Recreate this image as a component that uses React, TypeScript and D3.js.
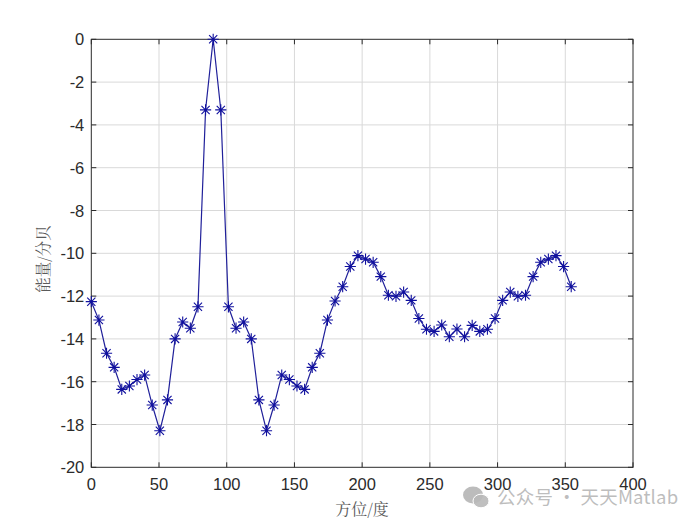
import React from "react";
import * as d3 from "d3";

const angles = [0,5.625,11.25,16.875,22.5,28.125,33.75,39.375,45,50.625,56.25,61.875,67.5,73.125,78.75,84.375,90,95.625,101.25,106.875,112.5,118.125,123.75,129.375,135,140.625,146.25,151.875,157.5,163.125,168.75,174.375,180,185.625,191.25,196.875,202.5,208.125,213.75,219.375,225,230.625,236.25,241.875,247.5,253.125,258.75,264.375,270,275.625,281.25,286.875,292.5,298.125,303.75,309.375,315,320.625,326.25,331.875,337.5,343.125,348.75,354.375];
const energy = [-12.26,-13.12,-14.67,-15.33,-16.36,-16.2,-15.9,-15.69,-17.09,-18.29,-16.85,-14.0,-13.21,-13.5,-12.5,-3.3,0,-3.3,-12.5,-13.5,-13.21,-14.0,-16.85,-18.29,-17.09,-15.69,-15.9,-16.2,-16.36,-15.33,-14.67,-13.12,-12.23,-11.56,-10.62,-10.11,-10.27,-10.42,-11.09,-11.96,-12.01,-11.81,-12.2,-13.05,-13.55,-13.65,-13.35,-13.9,-13.54,-13.9,-13.37,-13.65,-13.55,-13.05,-12.2,-11.81,-12.01,-11.96,-11.09,-10.42,-10.27,-10.11,-10.62,-11.56];
const xTicks = [0,50,100,150,200,250,300,350,400];
const yTicks = [0,-2,-4,-6,-8,-10,-12,-14,-16,-18,-20];
const xLabel = "方位/度";
const yLabel = "能量/分贝";
const watermark = "公众号 · 天天Matlab";

const W = 700, H = 525;
const L = 91.3, R = 633, T = 39.3, B = 467.3;
const axisColor = "#2b2b2b", gridColor = "#d9d9d9", lineColor = "#20209a";
const tickFont = "'Liberation Sans', Arial, sans-serif";
const cjkFont = "'Noto Serif CJK SC','Noto Sans CJK SC',sans-serif";

export default function App() {
  const x = d3.scaleLinear().domain([0, 400]).range([L, R]);
  const y = d3.scaleLinear().domain([-20, 0]).range([B, T]);
  const line = d3.line<number>().x((_, i) => x(angles[i])).y(d => y(d));
  const m = 5.6, d = 4.1;
  const star = `M${-m},0H${m}M${-d},${-d}L${d},${d}M${-d},${d}L${d},${-d}M0,${-m}V${m}`;
  return (
    <svg width={W} height={H} viewBox={`0 0 ${W} ${H}`} style={{ position: "fixed", left: 0, top: 0, background: "#fff" }}>
      {xTicks.slice(1, -1).map(t => <line key={t} x1={x(t)} x2={x(t)} y1={T} y2={B} stroke={gridColor} strokeWidth={1} />)}
      {yTicks.slice(1, -1).map(t => <line key={t} x1={L} x2={R} y1={y(t)} y2={y(t)} stroke={gridColor} strokeWidth={1} />)}
      <rect x={L} y={T} width={R - L} height={B - T} fill="none" stroke={axisColor} strokeWidth={1} />
      {xTicks.map(t => (
        <g key={t}>
          <line x1={x(t)} x2={x(t)} y1={B} y2={B - 5} stroke={axisColor} />
          <line x1={x(t)} x2={x(t)} y1={T} y2={T + 5} stroke={axisColor} />
          <text x={x(t)} y={B + 23} textAnchor="middle" fontFamily={tickFont} fontSize={16.5} fill={axisColor}>{t}</text>
        </g>
      ))}
      {yTicks.map(t => (
        <g key={t}>
          <line x1={L} x2={L + 5} y1={y(t)} y2={y(t)} stroke={axisColor} />
          <line x1={R} x2={R - 5} y1={y(t)} y2={y(t)} stroke={axisColor} />
          <text x={L - 7} y={y(t) + 6} textAnchor="end" fontFamily={tickFont} fontSize={16.5} fill={axisColor}>{t}</text>
        </g>
      ))}
      <path d={line(energy) ?? ""} fill="none" stroke={lineColor} strokeWidth={1.2} />
      {energy.map((v, i) => (
        <path key={i} d={star} transform={`translate(${x(angles[i])},${y(v)})`} fill="none" stroke="#10109e" strokeWidth={1.1} />
      ))}
      <text x={362} y={515} textAnchor="middle" fontFamily={cjkFont} fontSize={16} fill="#5a5a5a">{xLabel}</text>
      <text transform="translate(49,259) rotate(-90)" textAnchor="middle" fontFamily={cjkFont} fontSize={15.5} fill="#5a5a5a">{yLabel}</text>
      <g>
        <ellipse cx={473} cy={495} rx={10} ry={8.5} fill="#b0b0b0" fillOpacity={0.85} />
        <ellipse cx={481} cy={501} rx={8} ry={6.8} fill="#b8b8b8" fillOpacity={0.9} stroke="#fff" strokeWidth={1} />
        <text x={497} y={504} fontFamily="'Noto Sans CJK SC',sans-serif" fontSize={18.5} fill="#a8a8a8" fillOpacity={0.75} letterSpacing={0.2}>{watermark}</text>
      </g>
    </svg>
  );
}
